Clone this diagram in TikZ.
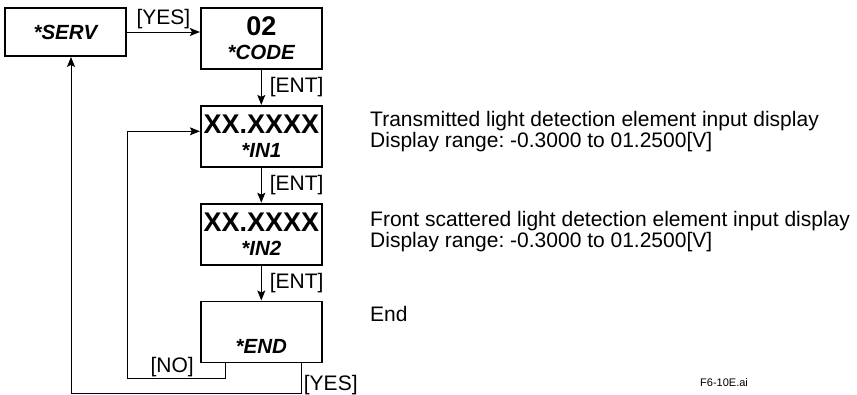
\documentclass[tikz,border=0pt]{standalone}
\usepackage{fontspec}
\setmainfont{Liberation Sans}
\usetikzlibrary{arrows.meta, positioning, calc}
\frenchspacing

\newcommand{\bigdisp}{\fontsize{27}{27}\selectfont\bfseries}
\newcommand{\modelbl}{\fontsize{20.5}{23}\selectfont\bfseries\itshape}

\begin{document}
\begin{tikzpicture}[
                x=1pt, y=-1pt,
                node distance=35pt and 73pt,
                dispbox/.style={rectangle, draw=black, line width=1.8pt, minimum width=121pt, minimum height=61pt, inner sep=0pt, align=center, font=\fontsize{20.5}{24}\selectfont},
                keylbl/.style={font=\fontsize{21}{21}\selectfont, inner sep=3pt},
                note/.style={font=\fontsize{21}{21.5}\selectfont, align=left, anchor=north west, inner sep=0pt},
                arrow/.style={line width=1pt, ->, >={Stealth[length=10pt, width=8pt, inset=2pt]}}
            ]%
            \useasboundingbox (0,0) rectangle (857,394);
            %
            % Display boxes
            \node[dispbox, minimum height=48pt] (serv) at (65.5,32) {\modelbl *SERV};
            \node[dispbox, right=73pt of serv.north east, anchor=north west] (code) {\bigdisp 02\\\modelbl *CODE};
            \node[dispbox, below=of code] (in1) {\bigdisp XX.XXXX\\\modelbl *IN1};
            \node[dispbox, below=of in1] (in2) {\bigdisp XX.XXXX\\\modelbl *IN2};
            \node[dispbox, below=of in2] (end) {\bigdisp\vphantom{X}\\\modelbl *END};
            %
            % Descriptions
            \node[note] (note1) at (370,111) {Transmitted light detection element input display\\Display range: -0.3000 to 01.2500[V]};
            \node[note] (note2) at (370,211) {Front scattered light detection element input display\\Display range: -0.3000 to 01.2500[V]};
            \node[note] (note3) at (370,306) {End};
            \node[font=\fontsize{11}{11}\selectfont, anchor=base west, inner sep=0pt] (fig) at (700,386) {F6-10E.ai};
            %
            % Key flow
            \draw[arrow] (serv.east) -- node[keylbl, above] (yes1) {[YES]} (serv.east -| code.west);
            \draw[arrow] (code) -- node[keylbl, right, xshift=5pt] (ent1) {[ENT]} (in1);
            \draw[arrow] (in1) -- node[keylbl, right, xshift=5pt] (ent2) {[ENT]} (in2);
            \draw[arrow] (in2) -- node[keylbl, right, xshift=5pt] (ent3) {[ENT]} (end);
            %
            % Return paths
            \coordinate (noout) at ([xshift=26pt]end.south west);
            \coordinate (nocorner) at (127,378);
            \coordinate (noin) at ([yshift=5pt]in1.west);
            \draw[arrow] (noout) |- (nocorner) |- (noin);
            \node[keylbl, anchor=north east, inner sep=0pt] (nolbl) at ([xshift=-32pt, yshift=6pt]noout) {[NO]};
            %
            \coordinate (yesout) at ([xshift=-21pt]end.south east);
            \coordinate (yescorner) at (71,393);
            \draw[arrow] (yesout) |- (yescorner) -- (yescorner |- serv.south);
            \node[keylbl, anchor=north west, inner sep=0pt] (yes2) at ([xshift=2pt, yshift=-12pt]yesout) {[YES]};
        \end{tikzpicture}
\end{document}
